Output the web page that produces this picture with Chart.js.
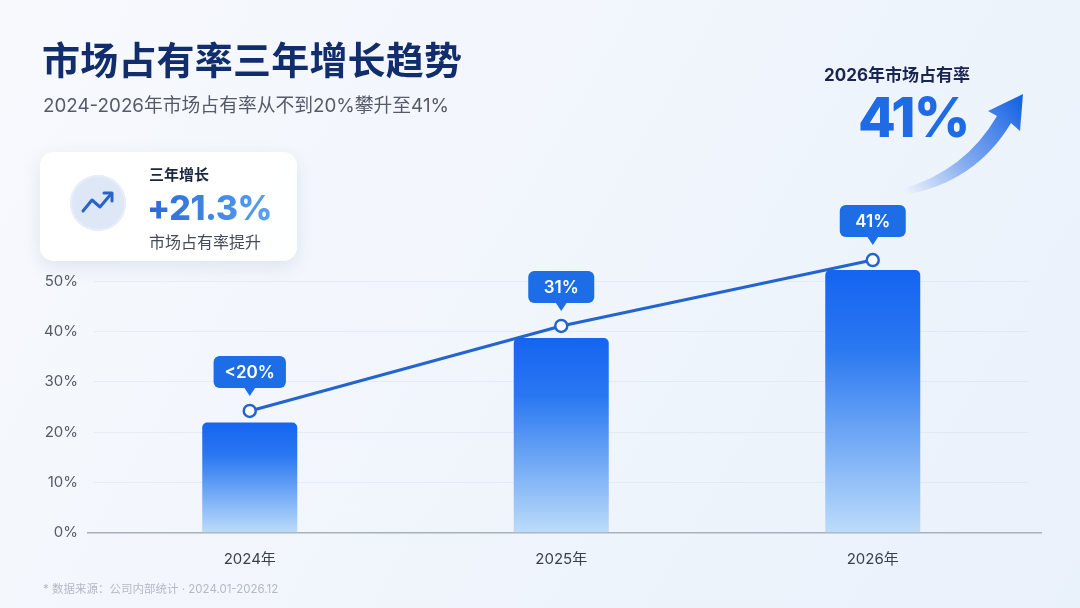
<!DOCTYPE html>
<html>
<head>
<meta charset="utf-8">
<script src="https://cdn.jsdelivr.net/npm/chart.js@4.4.1/dist/chart.umd.min.js"></script>
<style>
  html, body { margin: 0; padding: 0; }
  body {
    width: 1080px; height: 608px; overflow: hidden; position: relative;
    background: linear-gradient(120deg, #f7f9fd 0%, #f0f5fc 55%, #e9f1fb 100%);
    font-family: "Inter", "Noto Sans CJK SC", sans-serif;
  }
  #chart { position: absolute; left: 0; top: 0; }
  .abs { position: absolute; white-space: nowrap; }
  #title { left: 42px; top: 30px; font-size: 38px; font-weight: 700; color: #122d6b; letter-spacing: 0.2px; }
  #sub { left: 43px; top: 90px; font-size: 18.8px; color: #555b66; }
  #card {
    left: 40px; top: 152px; width: 257px; height: 109px; border-radius: 14px;
    background: rgba(255,255,255,0.92); box-shadow: 0 6px 18px rgba(30,60,120,0.10);
  }
  #icon {
    left: 70px; top: 175px; width: 56px; height: 56px; border-radius: 50%;
    background: #dde7f6; box-shadow: inset 0 0 0 2px #e8eef9;
  }
  #k1 { left: 149px; top: 163px; font-size: 15px; font-weight: 700; color: #1a2540; }
  #k2 {
    left: 147px; top: 187px; font-size: 34px; font-weight: 800; letter-spacing: -0.5px;
    background: linear-gradient(90deg, #2a68d8, #58a2f2); -webkit-background-clip: text; color: transparent;
  }
  #k3 { left: 149px; top: 229px; font-size: 16px; color: #454b55; }
  #r1 { left: 824px; top: 61px; font-size: 17px; font-weight: 700; color: #1a2550; }
  #r2 { left: 858px; top: 87px; font-size: 55px; font-weight: 800; color: #1f6be6; letter-spacing: -2px; line-height: 1.1; }
  #foot { left: 43px; top: 580px; font-size: 11.5px; color: #b4b9c2; }
  svg { position: absolute; left: 0; top: 0; }
</style>
</head>
<body>
<canvas id="chart" width="1080" height="608"></canvas>
<div id="title" class="abs">市场占有率三年增长趋势</div>
<div id="sub" class="abs">2024-2026年市场占有率从不到20%攀升至41%</div>
<div id="card" class="abs"></div>
<div id="icon" class="abs"></div>
<div id="k1" class="abs">三年增长</div>
<div id="k2" class="abs">+21.3%</div>
<div id="k3" class="abs">市场占有率提升</div>
<div id="r1" class="abs">2026年市场占有率</div>
<div id="r2" class="abs">41%</div>
<div id="foot" class="abs">* 数据来源：公司内部统计 · 2024.01-2026.12</div>
<svg width="1080" height="608">
  <defs>
    <linearGradient id="ag" gradientUnits="userSpaceOnUse" x1="905" y1="192" x2="1020" y2="100">
      <stop offset="0" stop-color="#2a6fe6" stop-opacity="0"/>
      <stop offset="0.45" stop-color="#2a6fe6" stop-opacity="0.55"/>
      <stop offset="1" stop-color="#1763e3" stop-opacity="1"/>
    </linearGradient>
  </defs>
  <path d="M 902 189 Q 965 171 997 116 L 988 111 L 1023 94 L 1020 131 L 1011 123 Q 975 183 904 195 Z" fill="url(#ag)"/>
  <polyline points="83,211 92,200 100,207 111,194" fill="none" stroke="#2b63c8" stroke-width="3" stroke-linecap="round" stroke-linejoin="round"/>
  <polyline points="104,193 112,193 112,201" fill="none" stroke="#2b63c8" stroke-width="3" stroke-linecap="round" stroke-linejoin="round"/>
</svg>
<script>
  const years = ["2024年", "2025年", "2026年"];
  const barValues = [21.9, 38.7, 52.2];
  const lineValues = [24.2, 41.1, 54.2];
  const pointLabels = ["<20%", "31%", "41%"];
  const yTicks = [0, 10, 20, 30, 40, 50];

  const callouts = {
    id: 'callouts',
    afterDatasetsDraw(chart) {
      const ctx = chart.ctx;
      const meta = chart.getDatasetMeta(1);
      ctx.save();
      ctx.font = '600 17px "Inter", "Noto Sans CJK SC", sans-serif';
      meta.data.forEach((pt, i) => {
        const txt = pointLabels[i];
        const w = Math.max(66, ctx.measureText(txt).width + 22);
        const h = 32;
        const x = pt.x - w / 2;
        const bottom = pt.y - 23;
        const y = bottom - h;
        ctx.fillStyle = '#1c6de6';
        ctx.beginPath();
        ctx.roundRect(x, y, w, h, 6);
        ctx.fill();
        ctx.beginPath();
        ctx.moveTo(pt.x - 6, bottom - 1);
        ctx.lineTo(pt.x + 6, bottom - 1);
        ctx.lineTo(pt.x, bottom + 8);
        ctx.closePath();
        ctx.fill();
        ctx.fillStyle = '#ffffff';
        ctx.textAlign = 'center';
        ctx.textBaseline = 'middle';
        ctx.fillText(txt, pt.x, y + h / 2 + 1);
      });
      ctx.restore();
    },
    beforeDatasetsDraw(chart) {
      const ctx = chart.ctx;
      const a = chart.chartArea;
      ctx.save();
      ctx.strokeStyle = '#a9b1bd';
      ctx.lineWidth = 1.5;
      ctx.beginPath();
      ctx.moveTo(87, a.bottom);
      ctx.lineTo(1042, a.bottom);
      ctx.stroke();
      ctx.restore();
    }
  };

  function barGradient(context) {
    const chart = context.chart;
    const a = chart.chartArea;
    if (!a || context.dataIndex === undefined) return '#1766f0';
    const top = chart.scales.y.getPixelForValue(barValues[context.dataIndex]);
    const g = chart.ctx.createLinearGradient(0, top, 0, a.bottom);
    g.addColorStop(0, '#1564f0');
    g.addColorStop(0.3, '#2a78f1');
    g.addColorStop(1, '#bcdcfa');
    return g;
  }

  new Chart(document.getElementById('chart'), {
    data: {
      labels: years,
      datasets: [
        {
          type: 'bar',
          data: barValues,
          backgroundColor: barGradient,
          borderRadius: { topLeft: 5, topRight: 5 },
          borderSkipped: 'bottom',
          barPercentage: 0.305,
          categoryPercentage: 1,
          order: 2
        },
        {
          type: 'line',
          data: lineValues,
          borderColor: '#2264d0',
          borderWidth: 3,
          pointRadius: 6,
          pointBorderWidth: 2.5,
          pointBackgroundColor: '#ffffff',
          pointBorderColor: '#2264d0',
          tension: 0,
          clip: false,
          order: 1
        }
      ]
    },
    options: {
      responsive: false,
      animation: false,
      layout: { padding: { top: 256, right: 51.5, bottom: 35.3, left: 0 } },
      plugins: { legend: { display: false }, tooltip: { enabled: false } },
      scales: {
        x: {
          grid: { display: false },
          border: { display: false },
          ticks: { color: '#3a3f48', font: { size: 15, family: '"Inter", "Noto Sans CJK SC", sans-serif' }, padding: 10 },
          afterFit: s => { s.height = 40; }
        },
        y: {
          min: 0, max: 55,
          afterFit: s => { s.width = 94; },
          afterBuildTicks: s => { s.ticks = yTicks.map(v => ({ value: v })); },
          grid: { color: 'rgba(205,214,228,0.35)', drawTicks: false, lineWidth: 1 },
          border: { display: false },
          ticks: {
            color: '#555a63', padding: 16,
            font: { size: 15, family: '"Inter", "Noto Sans CJK SC", sans-serif' },
            callback: v => v + '%'
          }
        }
      }
    },
    plugins: [callouts]
  });
</script>
</body>
</html>
